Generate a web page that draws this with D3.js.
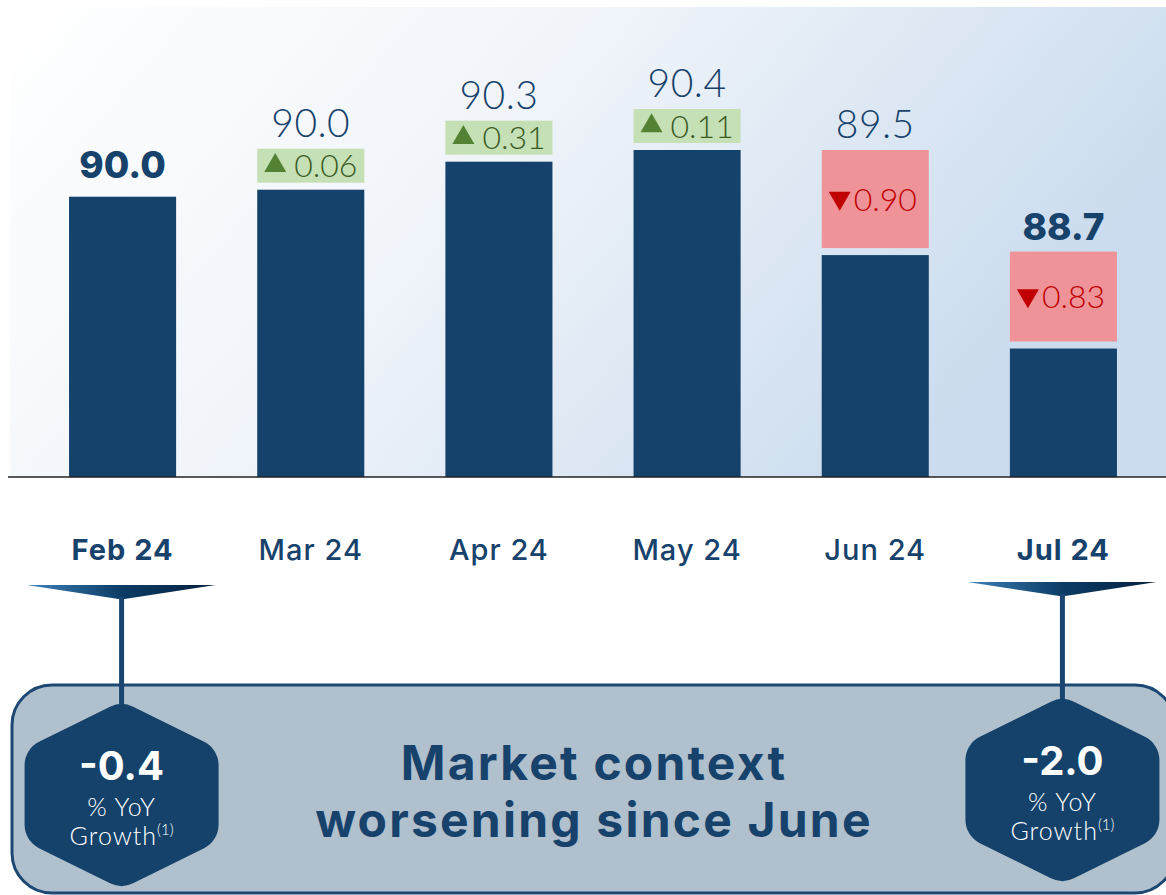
<!DOCTYPE html>
<html>
<head>
<meta charset="utf-8">
<script src="https://cdn.jsdelivr.net/npm/d3@7"></script>
<style>
  html, body { margin: 0; padding: 0; background: #ffffff; }
  svg { display: block; font-family: Inter, "Open Sans", sans-serif; }
  .thin { font-family: Lato, Inter, sans-serif; font-weight: 300; }
</style>
</head>
<body>
<div id="chart"></div>
<script>
// data
const months = ['Feb 24', 'Mar 24', 'Apr 24', 'May 24', 'Jun 24', 'Jul 24'];
const values = [90.0, 90.06, 90.3, 90.4, 89.5, 88.7];
const labels = ['90.0', '90.0', '90.3', '90.4', '89.5', '88.7'];
const deltas = [null, 0.06, 0.31, 0.11, -0.90, -0.83];
const boldMonths = ['Feb 24', 'Jul 24'];
const yoyMonths = ['Feb 24', 'Jul 24'];
const yoyValues = ['-0.4', '-2.0'];
const message = ['Market context', 'worsening since June'];

const width = 1166;
const height = 895;
const baseY = 477;

const navy = '#15426b';
const textNavy = '#17426c';

const svg = d3.select('#chart').append('svg')
  .attr('width', width)
  .attr('height', height);

const defs = svg.append('defs');

const bg = defs.append('linearGradient')
  .attr('id', 'bg')
  .attr('x1', 0).attr('y1', 0).attr('x2', 1).attr('y2', 0.35);
bg.append('stop').attr('offset', '0%').attr('stop-color', '#ffffff');
bg.append('stop').attr('offset', '45%').attr('stop-color', '#f1f5fa');
bg.append('stop').attr('offset', '100%').attr('stop-color', '#cbdcee');

const funnelGrad = defs.append('linearGradient')
  .attr('id', 'funnel')
  .attr('x1', 0).attr('y1', 0).attr('x2', 1).attr('y2', 0);
funnelGrad.append('stop').attr('offset', '0%').attr('stop-color', '#3f82b8');
funnelGrad.append('stop').attr('offset', '50%').attr('stop-color', '#0b3c66');
funnelGrad.append('stop').attr('offset', '100%').attr('stop-color', '#06203d');

// background plot panel
svg.append('rect')
  .attr('x', 10).attr('y', 7)
  .attr('width', width - 10).attr('height', baseY - 7)
  .attr('fill', 'url(#bg)');

// scales
const x = d3.scaleBand()
  .domain(months)
  .range([28.5, 1157.5])
  .paddingInner(0.431)
  .paddingOuter(0.2155);

const y = d3.scaleLinear()
  .domain([87.6, 90.4])
  .range([baseY, 150]);

const fmtDelta = d3.format('.2f');

const rows = months.map((m, i) => ({
  month: m,
  value: values[i],
  label: labels[i],
  delta: deltas[i],
  bold: boldMonths.includes(m)
}));

// bars
svg.append('g').attr('class', 'bars')
  .selectAll('rect')
  .data(rows)
  .join('rect')
  .attr('x', d => x(d.month))
  .attr('y', d => y(d.value))
  .attr('width', x.bandwidth())
  .attr('height', d => baseY - y(d.value))
  .attr('fill', navy);

// baseline
svg.append('line')
  .attr('x1', 8).attr('x2', width)
  .attr('y1', baseY).attr('y2', baseY)
  .attr('stroke', '#222')
  .attr('stroke-width', 1.5);

// delta boxes
const boxH = 34;
const gap = 7;
function boxTop(d) {
  if (d.delta > 0) return y(d.value) - gap - boxH;
  return y(d.value - d.delta);
}
function boxBottom(d) {
  return y(d.value) - gap;
}

const deltaRows = rows.filter(d => d.delta !== null);
const dg = svg.append('g').attr('class', 'deltas')
  .selectAll('g')
  .data(deltaRows)
  .join('g');

dg.append('rect')
  .attr('x', d => x(d.month))
  .attr('y', boxTop)
  .attr('width', x.bandwidth())
  .attr('height', d => boxBottom(d) - boxTop(d))
  .attr('fill', d => d.delta > 0 ? '#c5e0b4' : '#ef9399');

const tri = d3.symbol().type(d3.symbolTriangle).size(210);
dg.append('path')
  .attr('d', tri)
  .attr('fill', d => d.delta > 0 ? '#548235' : '#c00000')
  .attr('transform', d => {
    const cx = x(d.month) + 18;
    const cy = (boxTop(d) + boxBottom(d)) / 2 + (d.delta > 0 ? 0 : -1);
    return `translate(${cx},${cy}) rotate(${d.delta > 0 ? 0 : 180})`;
  });

dg.append('text')
  .attr('class', 'thin')
  .attr('x', d => x(d.month) + (d.delta > 0 ? 37 : 32))
  .attr('y', d => (boxTop(d) + boxBottom(d)) / 2)
  .attr('dy', '0.36em')
  .attr('font-size', 32)
  .attr('fill', d => d.delta > 0 ? '#3a5a26' : '#c00000')
  .text(d => fmtDelta(Math.abs(d.delta)));

// value labels
svg.append('g').attr('class', 'values')
  .selectAll('text')
  .data(rows)
  .join('text')
  .attr('class', d => d.bold ? null : 'thin')
  .attr('x', d => x(d.month) + x.bandwidth() / 2)
  .attr('y', d => (d.delta === null ? y(d.value) : boxTop(d)) - (d.delta === null ? 19 : 12))
  .attr('text-anchor', 'middle')
  .attr('font-size', d => d.bold ? 37 : 39)
  .attr('font-weight', d => d.bold ? 800 : null)
  .attr('letter-spacing', d => d.bold ? 0 : 0.5)
  .attr('fill', textNavy)
  .text(d => d.label);

// month labels
svg.append('g').attr('class', 'months')
  .selectAll('text')
  .data(rows)
  .join('text')
  .attr('x', d => x(d.month) + x.bandwidth() / 2)
  .attr('y', 560)
  .attr('text-anchor', 'middle')
  .attr('font-size', 29)
  .attr('letter-spacing', 1)
  .attr('font-weight', d => d.bold ? 700 : 500)
  .attr('fill', textNavy)
  .text(d => d.month);

// bottom message panel
svg.append('rect')
  .attr('x', 12).attr('y', 685)
  .attr('width', 1163).attr('height', 208)
  .attr('rx', 40)
  .attr('fill', '#b0c0cd')
  .attr('stroke', '#1d4873')
  .attr('stroke-width', 3);

svg.append('text')
  .attr('text-anchor', 'middle')
  .attr('font-size', 48)
  .attr('font-weight', 700)
  .attr('letter-spacing', 2.2)
  .attr('fill', textNavy)
  .selectAll('tspan')
  .data(message)
  .join('tspan')
  .attr('x', 594)
  .attr('y', (d, i) => 780 + i * 57)
  .text(d => d);

// callouts: funnel + stem + hexagon
function roundedPoly(pts, r) {
  const p = d3.path();
  const n = pts.length;
  const start = [(pts[n - 1][0] + pts[0][0]) / 2, (pts[n - 1][1] + pts[0][1]) / 2];
  p.moveTo(start[0], start[1]);
  for (let i = 0; i < n; i++) {
    const a = pts[i];
    const b = pts[(i + 1) % n];
    p.arcTo(a[0], a[1], b[0], b[1], r);
  }
  p.closePath();
  return p.toString();
}

const callouts = yoyMonths.map((m, i) => ({
  month: m,
  value: yoyValues[i],
  cx: x(m) + x.bandwidth() / 2 - 1,
  cy: i === 0 ? 795 : 790,
  top: i === 0 ? 585 : 582
}));

const cg = svg.append('g').attr('class', 'callouts')
  .selectAll('g')
  .data(callouts)
  .join('g');

cg.append('path')
  .attr('d', d => `M${d.cx - 95},${d.top} L${d.cx + 94},${d.top} L${d.cx + 3},${d.top + 14} L${d.cx - 3},${d.top + 14} Z`)
  .attr('fill', 'url(#funnel)');

cg.append('line')
  .attr('x1', d => d.cx).attr('x2', d => d.cx)
  .attr('y1', d => d.top + 12)
  .attr('y2', d => d.cy - 80)
  .attr('stroke', '#1a4570')
  .attr('stroke-width', 5);

cg.append('path')
  .attr('d', d => {
    const hw = 97, hh = 94, sh = 46;
    return roundedPoly([
      [d.cx, d.cy - hh],
      [d.cx + hw, d.cy - sh],
      [d.cx + hw, d.cy + sh],
      [d.cx, d.cy + hh],
      [d.cx - hw, d.cy + sh],
      [d.cx - hw, d.cy - sh]
    ], 26);
  })
  .attr('fill', navy);

cg.append('text')
  .attr('x', d => d.cx)
  .attr('y', d => d.cy - 15)
  .attr('text-anchor', 'middle')
  .attr('font-size', 40)
  .attr('font-weight', 700)
  .attr('fill', '#ffffff')
  .text(d => d.value);

cg.append('text')
  .attr('class', 'thin')
  .attr('x', d => d.cx)
  .attr('y', d => d.cy + 21)
  .attr('text-anchor', 'middle')
  .attr('font-size', 25)
  .attr('letter-spacing', 1)
  .attr('fill', '#ffffff')
  .text('% YoY');

const gt = cg.append('text')
  .attr('class', 'thin')
  .attr('x', d => d.cx)
  .attr('y', d => d.cy + 50)
  .attr('text-anchor', 'middle')
  .attr('font-size', 25)
  .attr('letter-spacing', 1)
  .attr('fill', '#ffffff');
gt.append('tspan').text('Growth');
gt.append('tspan')
  .attr('font-size', 15)
  .attr('dy', -10)
  .attr('letter-spacing', 0)
  .text('(1)');
</script>
</body>
</html>
